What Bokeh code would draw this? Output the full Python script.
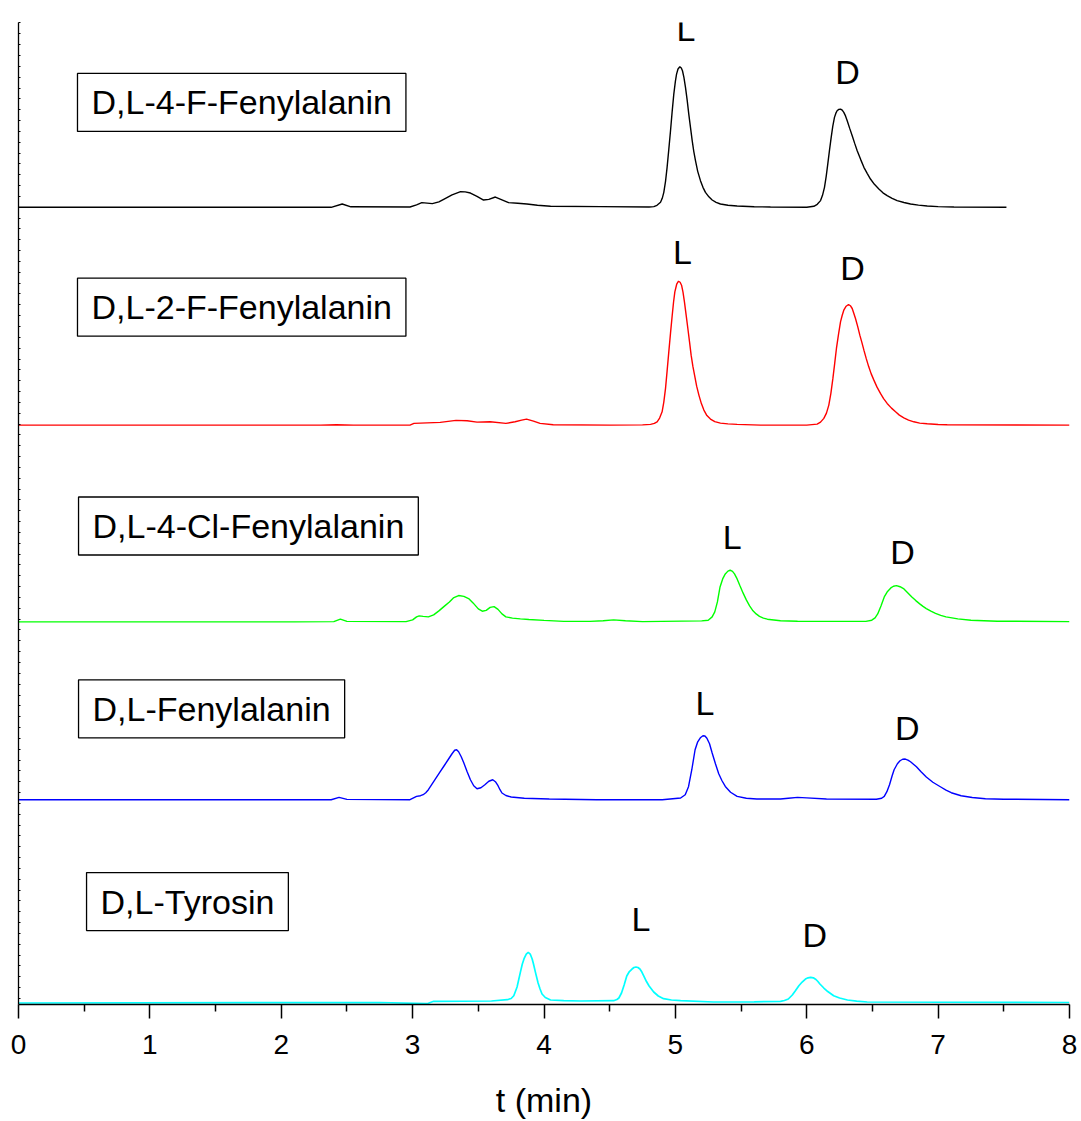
from bokeh.plotting import figure
from bokeh.models import Range1d, FixedTicker, Label, ColumnDataSource
from bokeh.embed import file_html
from bokeh.resources import INLINE
from bokeh.core.properties import value

# ---------------- data (t in min, signal in a.u. above each baseline) ----------------
names = ["D,L-4-F-Fenylalanin", "D,L-2-F-Fenylalanin", "D,L-4-Cl-Fenylalanin",
         "D,L-Fenylalanin", "D,L-Tyrosin"]
colors = ["#000000", "#FF0000", "#00FF00", "#0000FF", "#00FFFF"]
offsets = [79.8, 58.0, 38.3, 20.5, 0.15]   # vertical stacking offsets (a.u.)

trace_4f = [(0.0, 0.0), (2.38, 0.0), (2.464, 0.33), (2.53, 0.05), (2.98, 0.03), (3.03, 0.25),
            (3.07, 0.47), (3.11, 0.42), (3.15, 0.37), (3.20, 0.55), (3.24, 0.83), (3.30, 1.25),
            (3.365, 1.57), (3.40, 1.55), (3.44, 1.43), (3.49, 1.1), (3.54, 0.73), (3.58, 0.8),
            (3.63, 1.03), (3.68, 0.75), (3.73, 0.47), (3.80, 0.4), (3.87, 0.33), (3.95, 0.2),
            (4.05, 0.1), (4.43, 0.07), (4.80, 0.03), (4.836, 0.07), (4.86, 0.2), (4.887, 0.5),
            (4.90, 0.9), (4.912, 1.5), (4.925, 2.6), (4.937, 4.0), (4.95, 5.8), (4.963, 7.67),
            (4.975, 9.5), (4.988, 11.33), (5.0, 12.6), (5.009, 13.33), (5.02, 13.85), (5.034, 14.07),
            (5.045, 13.95), (5.054, 13.67), (5.065, 13.0), (5.077, 12.0), (5.09, 10.7), (5.102, 9.33),
            (5.115, 8.0), (5.128, 6.67), (5.14, 5.6), (5.153, 4.67), (5.17, 3.6), (5.191, 2.67),
            (5.21, 2.0), (5.229, 1.5), (5.255, 1.05), (5.280, 0.73), (5.31, 0.5), (5.343, 0.33),
            (5.40, 0.2), (5.470, 0.13), (5.60, 0.06), (5.724, 0.03), (6.00, 0.0), (6.054, 0.1),
            (6.08, 0.3), (6.105, 0.67), (6.12, 1.2), (6.135, 2.0), (6.148, 3.1), (6.160, 4.33),
            (6.173, 5.7), (6.186, 7.0), (6.198, 8.1), (6.211, 9.0), (6.221, 9.4), (6.231, 9.67),
            (6.244, 9.8), (6.257, 9.83), (6.27, 9.72), (6.282, 9.5), (6.295, 9.15), (6.308, 8.67),
            (6.327, 7.9), (6.346, 7.17), (6.365, 6.4), (6.384, 5.67), (6.41, 4.8), (6.435, 4.0),
            (6.46, 3.4), (6.485, 2.83), (6.515, 2.3), (6.549, 1.83), (6.58, 1.45), (6.612, 1.17),
            (6.65, 0.9), (6.688, 0.67), (6.74, 0.48), (6.790, 0.33), (6.85, 0.22), (6.917, 0.13),
            (7.0, 0.07), (7.120, 0.03), (7.520, 0.0)]

trace_2f = [(0.0, 0.0), (2.30, 0.0), (2.42, 0.03), (2.55, 0.0), (2.98, 0.0), (3.01, 0.17),
            (3.21, 0.27), (3.33, 0.47), (3.415, 0.43), (3.49, 0.3), (3.59, 0.33), (3.71, 0.17),
            (3.78, 0.33), (3.83, 0.5), (3.867, 0.6), (3.92, 0.4), (3.97, 0.17), (4.07, 0.03),
            (4.50, 0.0), (4.75, 0.02), (4.811, 0.07), (4.84, 0.17), (4.861, 0.33), (4.88, 0.7),
            (4.899, 1.33), (4.912, 2.3), (4.925, 3.67), (4.937, 5.4), (4.950, 7.33), (4.963, 9.2),
            (4.976, 11.0), (4.986, 12.3), (4.996, 13.33), (5.01, 14.1), (5.024, 14.4), (5.036, 14.3),
            (5.047, 14.0), (5.058, 13.3), (5.069, 12.33), (5.082, 11.0), (5.095, 9.67), (5.108, 8.3),
            (5.120, 7.0), (5.133, 5.9), (5.146, 5.0), (5.162, 3.9), (5.179, 3.0), (5.198, 2.15),
            (5.217, 1.5), (5.24, 0.95), (5.267, 0.6), (5.30, 0.35), (5.343, 0.2), (5.40, 0.12),
            (5.470, 0.07), (5.648, 0.0), (6.00, 0.0), (6.079, 0.1), (6.105, 0.3), (6.130, 0.67),
            (6.15, 1.2), (6.168, 2.0), (6.184, 3.2), (6.199, 4.67), (6.213, 6.2), (6.226, 7.67),
            (6.242, 9.1), (6.257, 10.33), (6.27, 11.0), (6.282, 11.5), (6.30, 11.9), (6.318, 12.07),
            (6.332, 11.95), (6.346, 11.67), (6.358, 11.2), (6.371, 10.67), (6.388, 9.85), (6.404, 9.0),
            (6.42, 8.25), (6.435, 7.5), (6.453, 6.65), (6.472, 5.83), (6.49, 5.15), (6.511, 4.5),
            (6.535, 3.8), (6.561, 3.17), (6.585, 2.65), (6.612, 2.17), (6.645, 1.7), (6.676, 1.33),
            (6.705, 1.0), (6.739, 0.73), (6.775, 0.5), (6.815, 0.33), (6.86, 0.2), (6.917, 0.13),
            (7.0, 0.06), (7.069, 0.03), (8.0, 0.0)]

trace_4cl = [(0.0, 0.0), (2.10, 0.0), (2.40, 0.03), (2.45, 0.27), (2.50, 0.05), (2.95, 0.03),
             (3.00, 0.2), (3.03, 0.5), (3.05, 0.6), (3.08, 0.55), (3.12, 0.5), (3.16, 0.7),
             (3.20, 1.1), (3.24, 1.55), (3.28, 2.0), (3.31, 2.4), (3.35, 2.64), (3.39, 2.55),
             (3.43, 2.3), (3.46, 1.9), (3.50, 1.3), (3.53, 1.07), (3.56, 1.15), (3.59, 1.45),
             (3.62, 1.53), (3.65, 1.25), (3.68, 0.8), (3.71, 0.5), (3.76, 0.38), (3.82, 0.3),
             (3.885, 0.24), (4.0, 0.15), (4.15, 0.05), (4.35, 0.05), (4.45, 0.12), (4.53, 0.2),
             (4.62, 0.12), (4.75, 0.03), (5.20, 0.1), (5.25, 0.17), (5.28, 0.5), (5.30, 1.0),
             (5.32, 2.0), (5.34, 3.5), (5.36, 4.3), (5.38, 4.8), (5.40, 5.08), (5.417, 5.17),
             (5.435, 5.05), (5.45, 4.8), (5.47, 4.3), (5.49, 3.67), (5.515, 2.9), (5.54, 2.2),
             (5.565, 1.6), (5.587, 1.17), (5.615, 0.8), (5.64, 0.55), (5.67, 0.38), (5.70, 0.27),
             (5.80, 0.12), (5.93, 0.07), (6.45, 0.05), (6.495, 0.17), (6.52, 0.4), (6.54, 0.8),
             (6.565, 1.6), (6.59, 2.5), (6.615, 3.05), (6.64, 3.4), (6.66, 3.57), (6.683, 3.63),
             (6.71, 3.52), (6.74, 3.3), (6.77, 2.9), (6.80, 2.5), (6.83, 2.13), (6.86, 1.8),
             (6.885, 1.55), (6.91, 1.33), (6.945, 1.07), (6.98, 0.85), (7.02, 0.65), (7.06, 0.5),
             (7.15, 0.3), (7.25, 0.17), (7.45, 0.07), (8.0, 0.03)]

trace_phe = [(0.0, 0.0), (2.38, 0.0), (2.44, 0.23), (2.50, 0.03), (2.98, 0.0), (3.03, 0.33),
             (3.06, 0.4), (3.08, 0.5), (3.10, 0.7), (3.12, 1.0), (3.145, 1.5), (3.17, 2.0),
             (3.205, 2.7), (3.24, 3.4), (3.27, 4.0), (3.30, 4.6), (3.32, 4.95), (3.335, 5.0),
             (3.35, 4.8), (3.37, 4.3), (3.39, 3.67), (3.415, 2.8), (3.44, 2.0), (3.465, 1.4),
             (3.49, 1.1), (3.52, 1.2), (3.55, 1.5), (3.58, 1.85), (3.61, 2.0), (3.63, 1.8),
             (3.65, 1.4), (3.665, 1.0), (3.68, 0.67), (3.71, 0.42), (3.75, 0.27), (3.85, 0.15),
             (4.04, 0.07), (4.40, 0.0), (4.90, 0.0), (5.04, 0.17), (5.075, 0.5), (5.10, 1.3),
             (5.125, 3.0), (5.15, 5.0), (5.17, 5.8), (5.19, 6.2), (5.21, 6.4), (5.225, 6.38),
             (5.24, 6.15), (5.26, 5.6), (5.28, 4.67), (5.305, 3.6), (5.33, 2.6), (5.355, 1.9),
             (5.38, 1.33), (5.42, 0.75), (5.47, 0.33), (5.54, 0.15), (5.62, 0.07), (5.80, 0.07),
             (5.86, 0.15), (5.93, 0.23), (6.0, 0.18), (6.15, 0.07), (6.53, 0.05), (6.57, 0.15),
             (6.59, 0.33), (6.61, 0.8), (6.63, 1.5), (6.65, 2.4), (6.665, 3.0), (6.69, 3.6),
             (6.71, 3.9), (6.73, 4.05), (6.75, 4.07), (6.77, 3.97), (6.79, 3.8), (6.81, 3.58),
             (6.835, 3.3), (6.87, 2.8), (6.91, 2.27), (6.96, 1.75), (7.02, 1.27), (7.06, 0.95),
             (7.10, 0.7), (7.175, 0.4), (7.26, 0.22), (7.36, 0.1), (7.5, 0.05), (8.0, 0.0)]

trace_tyr = [(0.0, 0.0), (2.75, 0.05), (3.11, -0.07), (3.16, 0.17), (3.60, 0.2), (3.72, 0.33),
             (3.75, 0.45), (3.77, 0.73), (3.795, 1.6), (3.82, 3.07), (3.835, 3.9), (3.85, 4.5),
             (3.865, 4.9), (3.88, 5.07), (3.895, 4.9), (3.91, 4.4), (3.92, 3.9), (3.935, 3.07),
             (3.955, 2.0), (3.97, 1.4), (3.985, 0.9), (4.01, 0.55), (4.05, 0.3), (4.15, 0.24),
             (4.28, 0.2), (4.53, 0.23), (4.555, 0.35), (4.57, 0.5), (4.59, 1.0), (4.61, 1.8),
             (4.63, 2.7), (4.65, 3.15), (4.67, 3.4), (4.685, 3.55), (4.70, 3.6), (4.715, 3.55),
             (4.73, 3.4), (4.745, 3.1), (4.76, 2.7), (4.78, 2.15), (4.80, 1.7), (4.835, 1.1),
             (4.87, 0.7), (4.91, 0.43), (4.97, 0.3), (5.04, 0.23), (5.29, 0.1), (5.6, 0.12),
             (5.80, 0.17), (5.83, 0.25), (5.86, 0.4), (5.89, 0.8), (5.915, 1.25), (5.94, 1.73),
             (5.965, 2.1), (5.99, 2.4), (6.01, 2.52), (6.03, 2.57), (6.05, 2.52), (6.07, 2.35),
             (6.085, 2.15), (6.10, 1.9), (6.13, 1.5), (6.16, 1.15), (6.205, 0.73), (6.25, 0.5),
             (6.31, 0.3), (6.38, 0.18), (6.46, 0.1), (8.0, 0.05)]

traces = [trace_4f, trace_2f, trace_4cl, trace_phe, trace_tyr]

# peak windows (min) used to find the L and D enantiomer peaks
peak_windows = [[(4.9, 5.2), (6.1, 6.5)], [(4.9, 5.2), (6.1, 6.5)], [(5.3, 5.6), (6.5, 6.9)],
                [(5.1, 5.4), (6.6, 6.9)], [(4.6, 4.8), (5.9, 6.2)]]
peak_names = ["L", "D"]
x_ticks = [0, 1, 2, 3, 4, 5, 6, 7, 8]

# ---------------- style / layout ----------------
FONT = "Liberation Sans"
label_dx = [[6, 7], [4, 4], [2, 6], [2, 2], [5, 4]]                        # px
label_dy = [[-38, -37], [-29, -37], [-33, -34], [-33, -31], [-48, -42]]    # px
box_x = [0.449, 0.449, 0.457, 0.457, 0.518]
box_y = [90.3, 69.8, 47.9, 29.6, 10.3]

p = figure(width=1081, height=1121, output_backend="svg", toolbar_location=None,
           x_range=Range1d(0, 8), y_range=Range1d(0, 98.3),
           min_border_left=18, min_border_right=12, min_border_top=22, min_border_bottom=116)
p.outline_line_color = None
p.grid.visible = False
p.background_fill_color = "white"
p.border_fill_color = "white"

for tr, off, col in zip(traces, offsets, colors):
    p.line(x=[a for a, b in tr], y=[b + off for a, b in tr], line_color=col,
           line_width=1.7 if col == "#00FFFF" else 1.4)

# peak labels placed above the maxima of the L / D peaks
lx, ly, lt, ldx, ldy = [], [], [], [], []
for i, (tr, off) in enumerate(zip(traces, offsets)):
    for j, (a, b) in enumerate(peak_windows[i]):
        pts = [q for q in tr if a <= q[0] <= b]
        tm, sm = max(pts, key=lambda q: q[1])
        lx.append(tm); ly.append(sm + off); lt.append(peak_names[j])
        ldx.append(label_dx[i][j]); ldy.append(label_dy[i][j])
src = ColumnDataSource(dict(x=lx, y=ly, text=lt, dx=ldx, dy=ldy))
p.text(x="x", y="y", text="text", x_offset="dx", y_offset="dy", source=src,
       text_font=value(FONT), text_font_size="34px", text_color="black",
       text_align="center", text_baseline="middle")

# boxed compound names
for name, bx, by in zip(names, box_x, box_y):
    p.add_layout(Label(x=bx, y=by, text=name, anchor="center_left", padding=(14, 10),
                       text_font=FONT, text_font_size="34px", text_color="black",
                       border_line_color="black", border_line_width=1.3,
                       background_fill_color="white"))

# x axis
xa = p.xaxis[0]
xa.ticker = FixedTicker(ticks=x_ticks, minor_ticks=[v + 0.5 for v in x_ticks[:-1]])
xa.axis_label = "t (min)"
xa.axis_label_text_font = FONT
xa.axis_label_text_font_size = "34px"
xa.axis_label_text_font_style = "normal"
xa.axis_label_text_color = "black"
xa.axis_label_standoff = 24
xa.major_label_text_font = FONT
xa.major_label_text_font_size = "28px"
xa.major_label_text_color = "black"
xa.major_label_standoff = 16
xa.axis_line_color = "black"
xa.axis_line_width = 1.5
xa.major_tick_line_color = "black"
xa.major_tick_line_width = 1.5
xa.major_tick_out = 14
xa.major_tick_in = 0
xa.minor_tick_line_color = "black"
xa.minor_tick_line_width = 1.5
xa.minor_tick_out = 7
xa.minor_tick_in = 0

# y axis: only the line with small inner (minor) ticks, no labels
ya = p.yaxis[0]
ya.ticker = FixedTicker(ticks=[], minor_ticks=[0.6 + 1.085 * k for k in range(91)])
ya.major_label_standoff = 0
ya.axis_line_color = "black"
ya.axis_line_width = 1.3
ya.major_tick_line_color = None
ya.minor_tick_line_color = "black"
ya.minor_tick_line_width = 1
ya.minor_tick_in = 2
ya.minor_tick_out = 0

open("out.html", "w").write(file_html(p, INLINE))
